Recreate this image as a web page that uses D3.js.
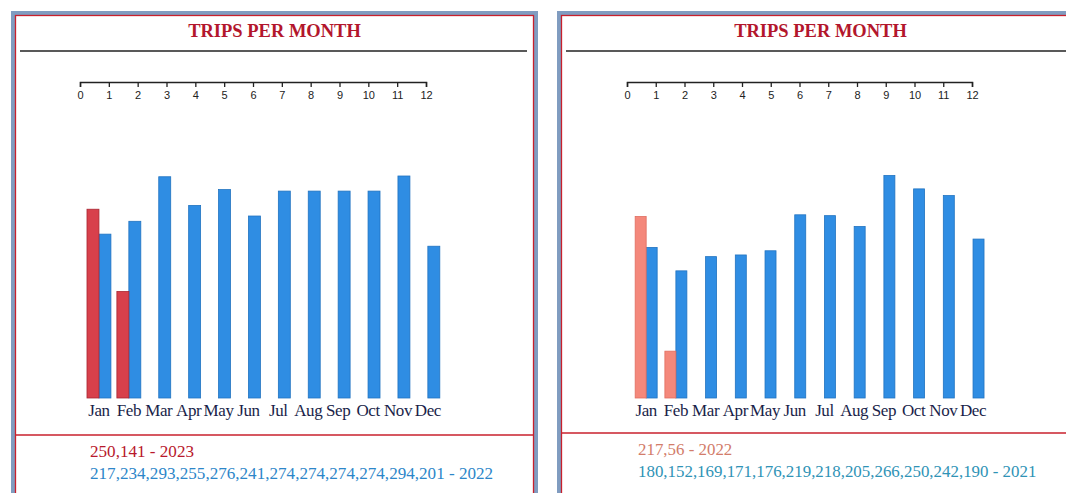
<!DOCTYPE html>
<html><head><meta charset="utf-8">
<script src="https://cdn.jsdelivr.net/npm/d3@7"></script>
<style>
html,body{margin:0;padding:0;background:#fff;}
svg{display:block;}
</style></head>
<body>
<svg id="c" width="1066" height="493"></svg>
<script>
// ---- data ----
const months = ["Jan","Feb","Mar","Apr","May","Jun","Jul","Aug","Sep","Oct","Nov","Dec"];
const axisTicks = [0,1,2,3,4,5,6,7,8,9,10,11,12];
const titleText = "TRIPS PER MONTH";
const leftCurrent = [250,141];            // 2023
const leftPrevious = [217,234,293,255,276,241,274,274,274,274,294,201]; // 2022
const leftYears = ["2023","2022"];
const rightCurrent = [217,56];            // 2022
const rightPrevious = [180,152,169,171,176,219,218,205,266,250,242,190]; // 2021
const rightYears = ["2022","2021"];

const svg = d3.select("#c");

function drawPanel(p){
  const g = svg.append("g");
  // frame
  g.append("rect").attr("x",p.x0).attr("y",13).attr("width",p.w).attr("height",520)
    .attr("fill","#fff").attr("stroke","#809cc0").attr("stroke-width",4);
  g.append("rect").attr("x",p.x0+2.5).attr("y",15.5).attr("width",p.w-5).attr("height",515)
    .attr("fill","none").attr("stroke","#c8202c").attr("stroke-width",1.3);
  // title
  g.append("text").attr("x",p.x0+p.w/2).attr("y",37).attr("text-anchor","middle")
    .attr("font-family","Liberation Serif, serif").attr("font-weight","bold")
    .attr("font-size",18.5).attr("fill","#b3162c").text(titleText);
  g.append("line").attr("x1",p.x0+7).attr("x2",p.x0+p.w-9).attr("y1",51).attr("y2",51)
    .attr("stroke","#222").attr("stroke-width",1.6);
  // top numeric axis
  const ax = d3.scaleLinear().domain([0,12]).range(p.axisRange);
  const axG = g.append("g").attr("transform","translate(0,82)")
    .call(d3.axisBottom(ax).tickValues(axisTicks).tickSize(5).tickSizeOuter(5).tickFormat(d3.format("d")));
  axG.select(".domain").attr("stroke","#222").attr("stroke-width",1.5);
  axG.selectAll(".tick line").attr("stroke","#222").attr("stroke-width",1.3);
  axG.selectAll(".tick text").attr("font-family","Liberation Sans, sans-serif").attr("font-size",11)
    .attr("fill","#222").attr("dy","0.8em");
  // bars
  const x = d3.scaleBand().domain(months).range(p.bandRange).paddingInner(p.padIn).paddingOuter(p.padOut);
  const xs = d3.scaleBand().domain(["cur","prev"]).range([0,x.bandwidth()]);
  const maxV = d3.max(p.cur.concat(p.prev));
  const y = d3.scaleLinear().domain([0,maxV]).range([398,p.yTop]);
  g.append("g").selectAll("rect").data(p.prev).join("rect")
    .attr("x",(d,i)=>x(months[i])+xs("prev")).attr("width",xs.bandwidth())
    .attr("y",d=>y(d)).attr("height",d=>y(0)-y(d))
    .attr("fill","#2f8de3").attr("stroke","#2173c0").attr("stroke-width",0.8);
  g.append("g").selectAll("rect").data(p.cur).join("rect")
    .attr("x",(d,i)=>x(months[i])+xs("cur")).attr("width",xs.bandwidth())
    .attr("y",d=>y(d)).attr("height",d=>y(0)-y(d))
    .attr("fill",p.curFill).attr("stroke",p.curStroke).attr("stroke-width",0.8);
  // month labels
  const mxG = g.append("g").attr("transform","translate(0,399)")
    .call(d3.axisBottom(x).tickSize(0));
  mxG.select(".domain").remove();
  mxG.selectAll(".tick text").attr("font-family","Liberation Serif, serif").attr("font-size",17)
    .attr("fill","#1a1f4a").attr("dy","0.8em").attr("letter-spacing","-0.4");
  // separator + value lines
  g.append("line").attr("x1",p.x0+2).attr("x2",p.x0+p.w-2).attr("y1",p.sepY).attr("y2",p.sepY)
    .attr("stroke","#c8202c").attr("stroke-width",1.6);
  g.append("text").attr("x",p.textX).attr("y",p.sepY+22).attr("font-family","Liberation Serif, serif")
    .attr("font-size",p.fs).attr("fill",p.curText).text(p.cur.join(",")+" - "+p.years[0]);
  g.append("text").attr("x",p.textX).attr("y",p.sepY+44).attr("font-family","Liberation Serif, serif")
    .attr("font-size",p.fs).attr("fill",p.prevText).text(p.prev.join(",")+" - "+p.years[1]);
}

drawPanel({x0:13,w:523,axisRange:[80,426],bandRange:[84,442.8],padIn:0.2,padOut:0.1,yTop:176,
  cur:leftCurrent,prev:leftPrevious,years:leftYears,curFill:"#d8404b",curStroke:"#a82632",
  sepY:435,textX:90,fs:17.1,curText:"#b8182c",prevText:"#2d86c9"});
drawPanel({x0:559,w:523,axisRange:[627,972],bandRange:[632.2,987],padIn:0.26,padOut:0.1,yTop:175.5,
  cur:rightCurrent,prev:rightPrevious,years:rightYears,curFill:"#f4887b",curStroke:"#e06e60",
  sepY:433,textX:638,fs:16.9,curText:"#d27c6a",prevText:"#2f93b6"});
</script>
</body></html>
